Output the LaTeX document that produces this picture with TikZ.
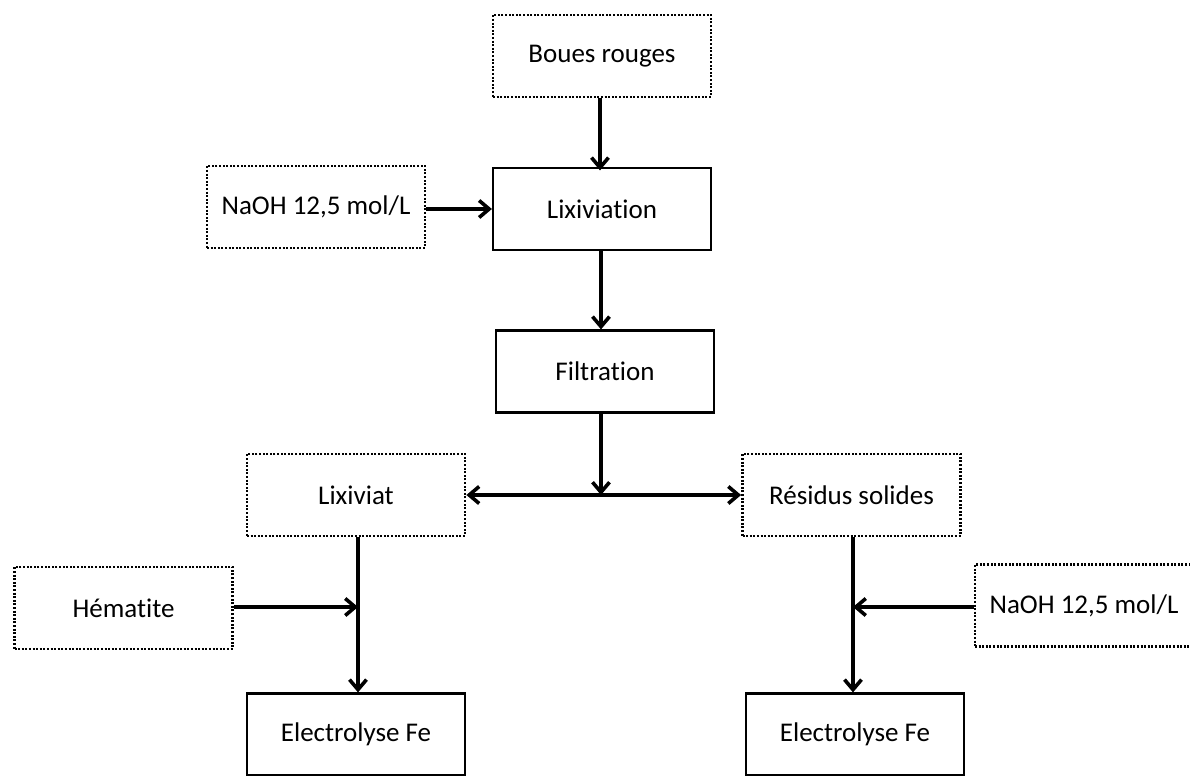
\documentclass[tikz,border=0pt]{standalone}
\usepackage{fontspec}
\setmainfont[Ligatures={NoCommon}]{Carlito}
\usetikzlibrary{arrows.meta}
\tikzset{
  box/.style={draw, line width=1.1pt, minimum width=109pt, minimum height=41pt, inner sep=0pt, font=\fontsize{13.5}{16}\selectfont},
  dotbox/.style={box, line width=1.4pt, dash pattern=on 1pt off 0.8pt},
  tip/.tip={Straight Barb[length=5pt,width=8.5pt,line width=1.8pt]},
  conn/.style={line width=1.8pt, -tip},
  bconn/.style={line width=1.8pt, tip-tip}
}
\begin{document}
\begin{tikzpicture}[x=0.5pt,y=-0.5pt]
\useasboundingbox (0,0) rectangle (1190,776);
\node[dotbox] (boues) at (602,56) {Boues rouges};
\node[box] (lix) at (602,209) {Lixiviation};
\node[dotbox] (naohA) at (316,207) {NaOH 12,5 mol/L};
\node[box] (filt) at (605,371.5) {Filtration};
\node[dotbox] (lixat) at (356,495) {Lixiviat};
\node[dotbox] (res) at (851.5,495) {Résidus solides};
\node[dotbox] (hem) at (123.5,608) {Hématite};
\node[dotbox] (naohB) at (1084,605.5) {NaOH 12,5 mol/L};
\node[box] (elA) at (356,734.5) {Electrolyse Fe};
\node[box] (elB) at (855,734.5) {Electrolyse Fe};

\coordinate (split) at (601,495);
\draw[conn] (boues.south -| lix.north) ++(-2,0) -- ++(0,72);
\draw[conn] (naohA.east |- lix.west) -- (lix.west);
\draw[conn] (lix.south) ++(-1,0) -- (filt.north -| split);
\draw[conn] (filt.south -| split) -- (split);
\draw[bconn] (lixat.east) -- (res.west);

\coordinate (jA) at (358,607);
\coordinate (jB) at (853,607);
\draw[conn] (lixat.south -| jA) -- (elA.north -| jA);
\draw[conn] (res.south -| jB) -- (elB.north -| jB);
\draw[conn] (hem.east |- jA) -- (jA);
\draw[conn] (naohB.west |- jB) -- (jB);
\end{tikzpicture}
\end{document}
